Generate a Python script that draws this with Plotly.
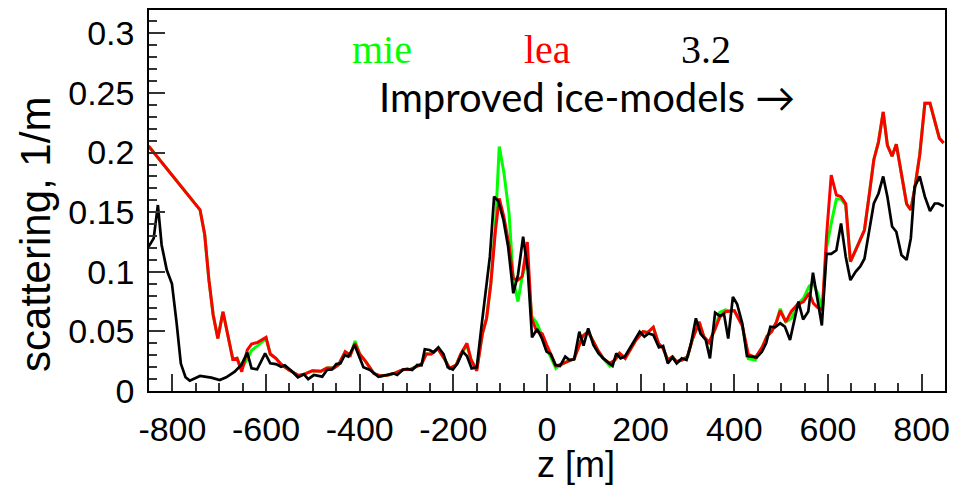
import plotly.graph_objects as go

# ---- data ----
black_z = [-851, -840, -831, -823, -812, -801, -791, -782, -772, -763,
           -741, -717, -699, -685, -667, -653, -640, -631, -619, -602,
           -591, -579, -568, -560, -546, -532, -519, -510, -498, -480,
           -470, -459, -450, -441, -432, -424, -411, -402, -392, -378,
           -360, -342, -328, -320, -307, -298, -288, -277, -268, -261,
           -251, -242, -232, -221, -212, -201, -191, -180, -171, -161,
           -150, -140, -131, -122, -113, -104, -93, -83, -72, -62,
           -51, -41, -32, -21, -11, -1, 8, 18, 28, 39,
           48, 58, 69, 78, 88, 99, 110, 120, 131, 140,
           148, 157, 166, 177, 187, 198, 208, 217, 227, 239,
           248, 258, 268, 277, 288, 298, 307, 318, 328, 339,
           348, 359, 369, 378, 387, 397, 406, 417, 427, 438,
           448, 459, 468, 477, 487, 498, 508, 519, 528, 537,
           547, 558, 568, 577, 587, 597, 607, 618, 628, 638,
           648, 659, 669, 678, 689, 698, 708, 718, 727, 737,
           746, 757, 768, 777, 785, 796, 807, 818, 828, 836,
           847]
black_v = [0.121, 0.128, 0.156, 0.1225, 0.1015, 0.090, 0.057, 0.023, 0.0115, 0.0087,
           0.0126, 0.0112, 0.0092, 0.0115, 0.0162, 0.0218, 0.0322, 0.019, 0.0182, 0.0316,
           0.0232, 0.0226, 0.0204, 0.0215, 0.017, 0.0115, 0.014, 0.010, 0.0134, 0.012,
           0.0176, 0.018, 0.0226, 0.0232, 0.030, 0.0288, 0.0386, 0.030, 0.0199, 0.0176,
           0.012, 0.0134, 0.0148, 0.0134, 0.018, 0.0186, 0.0176, 0.0218, 0.0215, 0.035,
           0.0344, 0.0325, 0.0366, 0.031, 0.0199, 0.018, 0.0232, 0.033, 0.0294, 0.019,
           0.0199, 0.054, 0.0847, 0.1127, 0.163, 0.1594, 0.1435, 0.121, 0.082, 0.0973,
           0.1295, 0.1015, 0.045, 0.052, 0.0442, 0.033, 0.031, 0.0218, 0.021, 0.0288,
           0.026, 0.0265, 0.0497, 0.038, 0.0526, 0.0386, 0.0316, 0.0274, 0.0238, 0.021,
           0.0316, 0.0274, 0.0288, 0.0358, 0.0428, 0.0497, 0.0456, 0.0483, 0.047, 0.0366,
           0.0377, 0.0232, 0.0282, 0.0232, 0.0274, 0.026, 0.0386, 0.061, 0.048, 0.0428,
           0.0274, 0.0657, 0.063, 0.0645, 0.044, 0.079, 0.073, 0.0568, 0.0294, 0.0288,
           0.0282, 0.033, 0.040, 0.054, 0.0535, 0.0568, 0.054, 0.0428, 0.0596, 0.075,
           0.060, 0.0666, 0.0993, 0.079, 0.055, 0.115, 0.115, 0.118, 0.1406, 0.1127,
           0.093, 0.100, 0.1045, 0.111, 0.135, 0.1573, 0.1657, 0.180, 0.163, 0.138,
           0.1336, 0.114, 0.110, 0.128, 0.171, 0.180, 0.163, 0.151, 0.1573, 0.1573,
           0.155]

color_z = [-851, -741, -731, -722, -713, -703, -692, -681, -671, -662,
           -652, -640, -631, -618, -600, -591, -579, -568, -551, -530,
           -519, -501, -483, -470, -455, -445, -431, -420, -410, -400,
           -387, -370, -356, -339, -325, -307, -293, -279, -268, -258,
           -247, -233, -219, -208, -194, -184, -171, -162, -150, -138,
           -129, -120, -110, -102, -92, -81, -72, -62, -53, -42,
           -33, -22, -10, -1, 8, 19, 28, 38, 48, 58,
           67, 76, 88, 99, 109, 120, 134, 145, 155, 167,
           179, 190, 205, 215, 227, 238, 248, 258, 268, 277,
           288, 300, 310, 325, 335, 346, 359, 369, 381, 390,
           400, 417, 430, 445, 460, 470, 480, 490, 498, 510,
           522, 535, 548, 560, 569, 578, 588, 597, 607, 618,
           628, 638, 648, 659, 669, 678, 689, 698, 708, 718,
           727, 737, 746, 757, 768, 777, 785, 796, 807, 818,
           828, 838, 847]
lea_v = [0.2055, 0.152, 0.131, 0.093, 0.064, 0.044, 0.0665, 0.0456, 0.0266, 0.0274,
         0.0162, 0.0344, 0.0394, 0.0408, 0.045, 0.031, 0.0274, 0.0224, 0.0176, 0.013,
         0.014, 0.017, 0.0165, 0.0193, 0.0193, 0.022, 0.033, 0.030, 0.040, 0.031,
         0.0246, 0.0148, 0.0126, 0.0134, 0.015, 0.018, 0.018, 0.0204, 0.0226, 0.031,
         0.031, 0.0355, 0.027, 0.019, 0.0218, 0.031, 0.040, 0.026, 0.017, 0.048,
         0.061, 0.090, 0.135, 0.1616, 0.146, 0.122, 0.0945, 0.093, 0.096, 0.125,
         0.061, 0.050, 0.048, 0.039, 0.031, 0.021, 0.022, 0.024, 0.0255, 0.027,
         0.037, 0.046, 0.0497, 0.041, 0.034, 0.0274, 0.0232, 0.026, 0.0316, 0.0274,
         0.0358, 0.0428, 0.0497, 0.049, 0.0535, 0.040, 0.0358, 0.026, 0.0288, 0.0246,
         0.026, 0.0288, 0.0428, 0.058, 0.0456, 0.0406, 0.052, 0.062, 0.0665, 0.067,
         0.0675, 0.055, 0.0308, 0.028, 0.037, 0.046, 0.050, 0.058, 0.0673, 0.058,
         0.067, 0.0725, 0.075, 0.0822, 0.0735, 0.070, 0.068, 0.13, 0.181, 0.1644,
         0.163, 0.157, 0.1085, 0.118, 0.127, 0.135, 0.167, 0.194, 0.209, 0.234,
         0.206, 0.197, 0.207, 0.181, 0.157, 0.152, 0.169, 0.198, 0.2413, 0.2413,
         0.226, 0.212, 0.208]
mie_v = [0.2055, 0.152, 0.131, 0.093, 0.064, 0.044, 0.0665, 0.0456, 0.0266, 0.0274,
         0.019, 0.027, 0.034, 0.038, 0.044, 0.031, 0.0274, 0.0224, 0.0176, 0.013,
         0.014, 0.017, 0.0165, 0.0193, 0.0193, 0.022, 0.033, 0.030, 0.042, 0.031,
         0.0246, 0.0148, 0.0126, 0.0134, 0.015, 0.018, 0.018, 0.0204, 0.0226, 0.031,
         0.031, 0.0355, 0.027, 0.019, 0.0218, 0.031, 0.038, 0.026, 0.018, 0.048,
         0.061, 0.090, 0.140, 0.205, 0.183, 0.149, 0.093, 0.075, 0.096, 0.110,
         0.063, 0.057, 0.046, 0.036, 0.028, 0.019, 0.022, 0.024, 0.0255, 0.027,
         0.037, 0.046, 0.0497, 0.041, 0.034, 0.0274, 0.021, 0.026, 0.0316, 0.0274,
         0.0358, 0.0428, 0.0497, 0.049, 0.0535, 0.040, 0.0358, 0.026, 0.0288, 0.0246,
         0.026, 0.0288, 0.0428, 0.058, 0.0456, 0.0406, 0.052, 0.066, 0.068, 0.067,
         0.0675, 0.055, 0.027, 0.026, 0.037, 0.046, 0.050, 0.058, 0.069, 0.058,
         0.061, 0.0725, 0.078, 0.088, 0.090, 0.082, 0.068, 0.12, 0.1406, 0.161,
         0.161, 0.156, 0.1085, 0.118, 0.127, 0.135, 0.167, 0.194, 0.209, 0.234,
         0.206, 0.197, 0.207, 0.181, 0.157, 0.152, 0.169, 0.198, 0.2413, 0.2413,
         0.226, 0.212, 0.208]

x_ticks = [-800, -600, -400, -200, 0, 200, 400, 600, 800]
y_ticks = [0, 0.05, 0.1, 0.15, 0.2, 0.25, 0.3]
y_tick_text = ["0", "0.05", "0.1", "0.15", "0.2", "0.25", "0.3"]

fig = go.Figure()
fig.add_trace(go.Scatter(x=color_z, y=mie_v, mode="lines", name="mie",
                         line=dict(color="#00ff00", width=3)))
fig.add_trace(go.Scatter(x=color_z, y=lea_v, mode="lines", name="lea",
                         line=dict(color="#ff0000", width=3)))
fig.add_trace(go.Scatter(x=black_z, y=black_v, mode="lines", name="3.2",
                         line=dict(color="#000000", width=2.7)))

sans = "Liberation Sans, Arial, sans-serif"
tick_font = dict(family=sans, size=34, color="black")

fig.update_layout(
    width=958, height=487,
    margin=dict(l=148.5, r=8, t=10, b=96),
    paper_bgcolor="white", plot_bgcolor="white",
    showlegend=False,
    xaxis=dict(range=[-850, 850], tickvals=x_ticks, ticktext=[str(v) for v in x_ticks],
               ticks="inside", ticklen=17, tickwidth=1.5, tickcolor="#333",
               minor=dict(dtick=50, tick0=0, ticks="inside", ticklen=8, tickwidth=1.5, tickcolor="#333"),
               showline=True, linecolor="black", linewidth=1.5, mirror=True,
               showgrid=False, zeroline=False, tickfont=tick_font, ticklabelstandoff=7),
    yaxis=dict(range=[0, 0.3196], tickvals=y_ticks, ticktext=y_tick_text,
               ticks="inside", ticklen=16, tickwidth=1.5, tickcolor="#333",
               minor=dict(dtick=0.01, tick0=0, ticks="inside", ticklen=8, tickwidth=1.5, tickcolor="#333"),
               showline=True, linecolor="black", linewidth=1.5, mirror=True,
               showgrid=False, zeroline=False, tickfont=tick_font, ticklabelstandoff=6),
)

serif = "Liberation Serif, Times New Roman, serif"
fig.add_annotation(text="mie", xref="paper", yref="paper", x=0.2926, y=0.896,
                   showarrow=False, font=dict(family=serif, size=40, color="#00ff00"),
                   xanchor="center", yanchor="middle")
fig.add_annotation(text="lea", xref="paper", yref="paper", x=0.5006, y=0.896,
                   showarrow=False, font=dict(family=serif, size=40, color="#ff0000"),
                   xanchor="center", yanchor="middle")
fig.add_annotation(text="3.2", xref="paper", yref="paper", x=0.6993, y=0.896,
                   showarrow=False, font=dict(family=serif, size=40, color="black"),
                   xanchor="center", yanchor="middle")
fig.add_annotation(text="Improved ice-models →", xref="paper", yref="paper", x=0.286, y=0.772,
                   showarrow=False, font=dict(family="Lato, sans-serif", size=40, color="black"),
                   xanchor="left", yanchor="middle")
fig.add_annotation(text="z [m]", xref="paper", yref="paper", x=0.536, y=-0.192,
                   showarrow=False, font=dict(family=sans, size=36, color="black"),
                   xanchor="center", yanchor="middle")
fig.add_annotation(text="scattering, 1/m", xref="paper", yref="paper", x=-0.1416, y=0.41,
                   showarrow=False, textangle=-90,
                   font=dict(family=sans, size=42, color="black"),
                   xanchor="center", yanchor="middle")

fig.write_html("out.html")
